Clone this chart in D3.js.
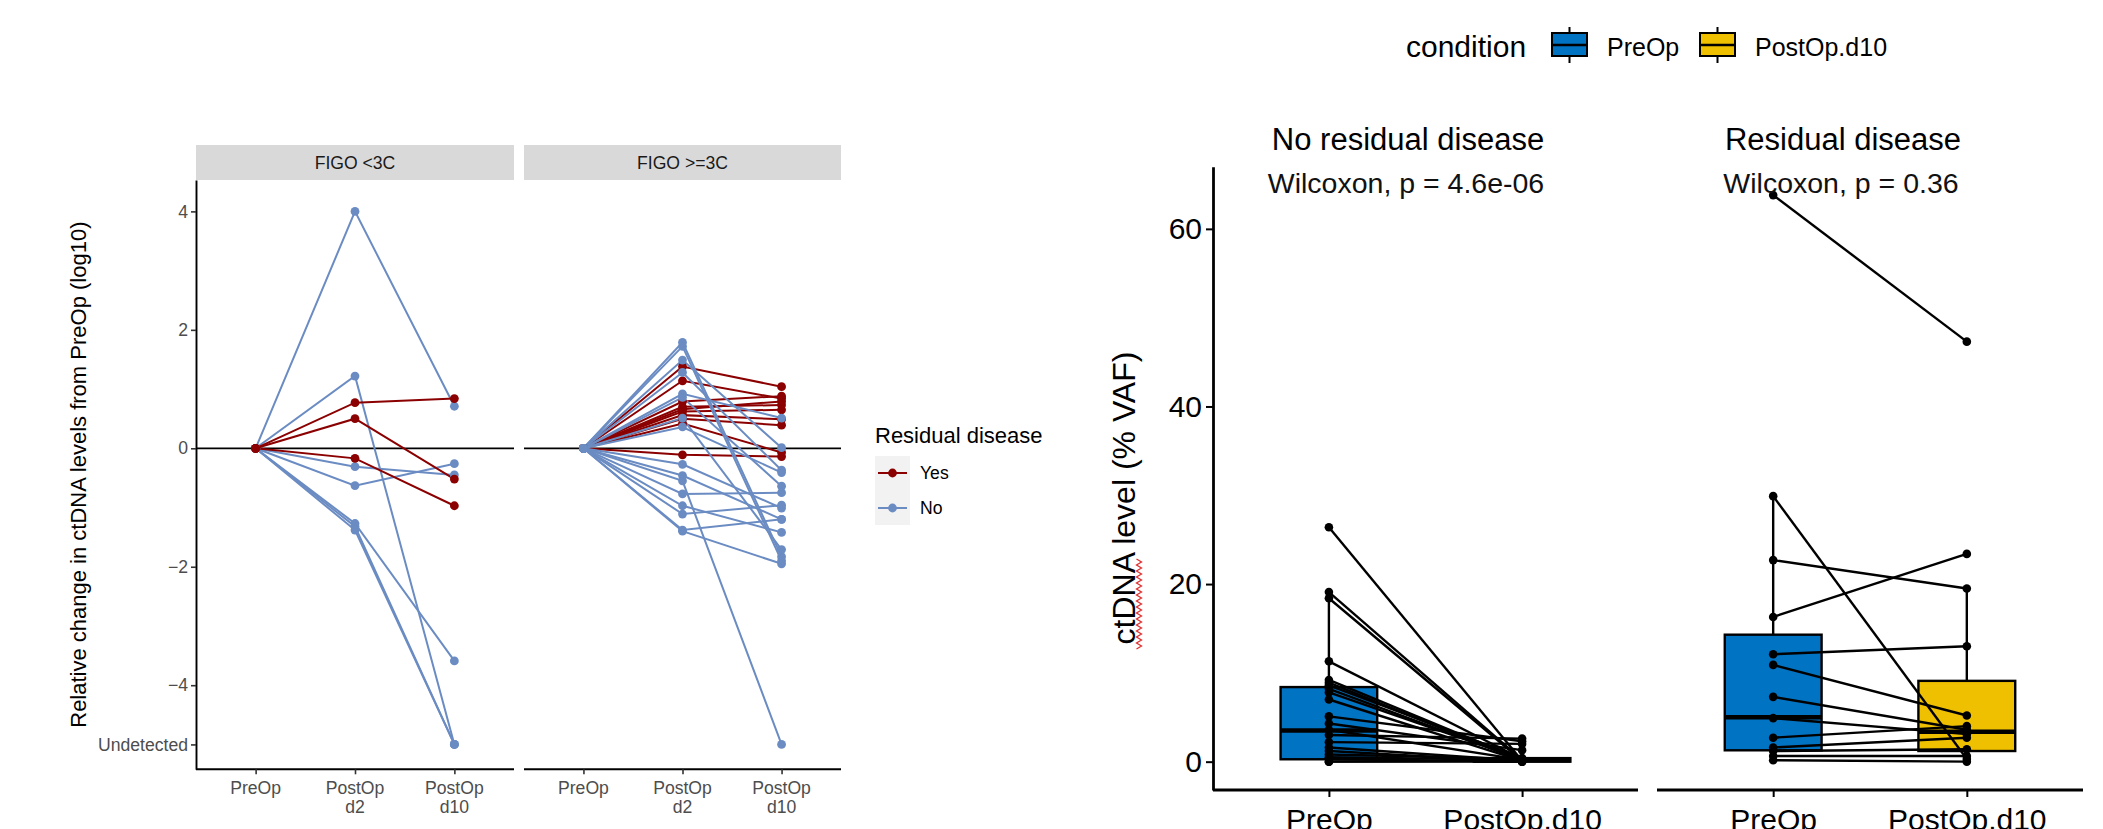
<!DOCTYPE html>
<html>
<head>
<meta charset="utf-8">
<script src="https://cdn.jsdelivr.net/npm/d3@7"></script>
<style>
  body { margin: 0; background: #fff; }
  svg { display: block; font-family: "Liberation Sans", Arial, sans-serif; }
</style>
</head>
<body>
<div id="chart"></div>
<script>
// ---- left plot: relative change (log10) ----
var timepoints = ["PreOp", "PostOp d2", "PostOp d10"];
var facets = ["FIGO <3C", "FIGO >=3C"];
var relTicks = [4, 2, 0, -2, -4, -5];
var relTickLabels = ["4", "2", "0", "\u22122", "\u22124", "Undetected"];
var residualLevels = ["Yes", "No"];

// FIGO <3C, one entry per patient (PreOp is always 0)
var lowD2  = [4.00, 1.22, -0.31, -0.63, -1.27, -1.32, -1.38, 0.77, 0.50, -0.17];
var lowD10 = [0.71, -5, -0.45, -0.26, -3.59, -5, -5, 0.84, -0.52, -0.97];
var lowRes = ["No", "No", "No", "No", "No", "No", "No", "Yes", "Yes", "Yes"];

// FIGO >=3C
var highD2  = [1.38, 1.14, 0.79, 0.70, 0.66, 0.62, 0.56, 0.50, 0.42, -0.11,
               1.79, 1.72, 1.49, 1.28, 0.92, 0.86, 0.51, 0.36, -0.27, -0.46, -0.55, -0.77, -0.97, -1.11, -1.38, -1.40];
var highD10 = [1.04, 0.84, 0.88, 0.73, 0.79, 0.65, 0.49, 0.39, -0.07, -0.14,
               -1.83, -1.90, 0.01, -0.37, 0.51, -0.64, -1.71, -0.41, -1.01, -1.20, -5, -0.75, -1.42, -0.96, -1.20, -1.95];
var highRes = ["Yes", "Yes", "Yes", "Yes", "Yes", "Yes", "Yes", "Yes", "Yes", "Yes",
               "No", "No", "No", "No", "No", "No", "No", "No", "No", "No", "No", "No", "No", "No", "No", "No"];

// ---- right plot: ctDNA level (% VAF) ----
var conditions = ["PreOp", "PostOp.d10"];
var groups = ["No residual disease", "Residual disease"];
var pvalues = ["Wilcoxon, p = 4.6e-06", "Wilcoxon, p = 0.36"];
var vafTicks = [0, 20, 40, 60];

var noResPre  = [26.4, 19.1, 18.4, 11.3, 9.2, 8.9, 8.6, 8.2, 7.8, 7.0, 5.1, 4.3, 3.6, 3.0, 2.2, 1.6, 0.8, 0.3, 0.0, 0.0, 0.5, 1.2];
var noResPost = [0.1, 0.2, 0.1, 0.3, 0.2, 0.1, 0.4, 0.2, 0.3, 0.1, 2.3, 1.3, 0.2, 2.6, 2.0, 0.1, 0.3, 0.0, 0.0, 0.1, 0.2, 0.0];
var resPre  = [63.8, 29.9, 22.7, 16.3, 12.1, 10.9, 7.3, 4.9, 2.7, 1.6, 1.2, 0.64, 0.16];
var resPost = [47.3, 0.3, 19.5, 23.4, 13.0, 5.2, 3.6, 3.1, 4.0, 2.7, 1.4, 0.64, 0.0];

// box stats: [lower whisker, Q1, median, Q3, upper whisker]
var noResPreBox  = [0.0, 0.27, 3.5, 8.4, 19.1];
var noResPostBox = [0.0, 0.0, 0.15, 0.4, 0.9];
var resPreBox    = [0.16, 1.28, 5.0, 14.3, 29.9];
var resPostBox   = [0.0, 1.2, 3.36, 9.1, 19.5];

var colorRes = d3.scaleOrdinal().domain(residualLevels).range(["#8b0000", "#6b8cc3"]);
var colorCond = d3.scaleOrdinal().domain(conditions).range(["#0073c2", "#efc000"]);

var W = 2103, H = 829;
var svg = d3.select("#chart").append("svg").attr("width", W).attr("height", H);

// ================= left plot =================
var panelTop = 180, panelBottom = 769.3;
var facetX = [[196, 514], [524, 841]];
var yRel = d3.scaleLinear().domain([-5.42, 4.53]).range([panelBottom, panelTop]);

var facetData = [
	{d2: lowD2, d10: lowD10, res: lowRes},
	{d2: highD2, d10: highD10, res: highRes}
];

facets.forEach(function(name, fi) {
	var x0 = facetX[fi][0], x1 = facetX[fi][1];
	var x = d3.scalePoint().domain(timepoints).range([x0, x1]).padding(0.6);
	var g = svg.append("g");

	// strip
	g.append("rect").attr("x", x0).attr("y", 145).attr("width", x1 - x0).attr("height", panelTop - 145)
		.attr("fill", "#d9d9d9");
	g.append("text").attr("x", (x0 + x1) / 2).attr("y", 169)
		.attr("text-anchor", "middle").attr("font-size", 17.6).attr("fill", "#1a1a1a").text(name);

	// zero line
	g.append("line").attr("x1", x0).attr("x2", x1).attr("y1", yRel(0)).attr("y2", yRel(0))
		.attr("stroke", "#000").attr("stroke-width", 1.8);

	var fd = facetData[fi];
	var patients = fd.d2.map(function(v, i) {
		return {res: fd.res[i], vals: [0, v, fd.d10[i]]};
	});

	var line = d3.line().x(function(d, i) { return x(timepoints[i]); }).y(function(d) { return yRel(d); });
	patients.forEach(function(p) {
		g.append("path").attr("d", line(p.vals)).attr("fill", "none")
			.attr("stroke", colorRes(p.res)).attr("stroke-width", 2);
	});
	patients.forEach(function(p) {
		g.selectAll(null).data(p.vals).enter().append("circle")
			.attr("cx", function(d, i) { return x(timepoints[i]); })
			.attr("cy", function(d) { return yRel(d); })
			.attr("r", 4.4).attr("fill", colorRes(p.res));
	});

	// x axis
	var xa = g.append("g").attr("transform", "translate(0," + panelBottom + ")")
		.call(d3.axisBottom(x).tickSize(5).tickSizeOuter(0).tickFormat(""));
	xa.select(".domain").attr("stroke-width", 1.9).attr("d", "M" + x0 + ",0H" + x1);
	xa.selectAll(".tick line").attr("stroke", "#333").attr("stroke-width", 1.6);
	timepoints.forEach(function(t) {
		var parts = t.split(" ");
		var tx = g.append("text").attr("x", x(t)).attr("y", panelBottom + 25)
			.attr("text-anchor", "middle").attr("font-size", 17.6).attr("fill", "#4d4d4d");
		parts.forEach(function(s, k) {
			tx.append("tspan").attr("x", x(t)).attr("dy", k === 0 ? 0 : 19).text(s);
		});
	});
});

// y axis (left facet only)
var ya = svg.append("g").attr("transform", "translate(196,0)")
	.call(d3.axisLeft(yRel).tickValues(relTicks).tickSize(5).tickSizeOuter(0)
		.tickFormat(function(d, i) { return relTickLabels[i]; }));
ya.select(".domain").attr("stroke-width", 1.9);
ya.selectAll(".tick line").attr("stroke", "#333").attr("stroke-width", 1.6);
ya.selectAll(".tick text").attr("font-size", 17.6).attr("fill", "#4d4d4d")
	.attr("font-family", "Liberation Sans, Arial, sans-serif").attr("x", -8);

svg.append("text").attr("transform", "translate(78," + ((panelTop + panelBottom) / 2) + ") rotate(-90)")
	.attr("text-anchor", "middle").attr("dy", "0.35em").attr("font-size", 22).attr("fill", "#000")
	.text("Relative change in ctDNA levels from PreOp (log10)");

// legend
var lg = svg.append("g");
lg.append("text").attr("x", 875).attr("y", 443).attr("font-size", 22).text("Residual disease");
lg.append("rect").attr("x", 875).attr("y", 456).attr("width", 35).attr("height", 69).attr("fill", "#f2f2f2");
residualLevels.forEach(function(r, i) {
	var cy = 473 + i * 35;
	lg.append("line").attr("x1", 878).attr("x2", 907).attr("y1", cy).attr("y2", cy)
		.attr("stroke", colorRes(r)).attr("stroke-width", 2);
	lg.append("circle").attr("cx", 892.5).attr("cy", cy).attr("r", 4.4).attr("fill", colorRes(r));
	lg.append("text").attr("x", 920).attr("y", cy + 6.3).attr("font-size", 17.6).text(r);
});

// ================= right plot =================
var rTop = 166.7, rBottom = 790;
var yVaf = d3.scaleLinear().domain([-3.19, 67.0]).range([rBottom, rTop]);
var groupX = [[1213, 1638], [1657, 2083]];
var groupPre = [noResPre, resPre];
var groupPost = [noResPost, resPost];
var groupBox = [[noResPreBox, noResPostBox], [resPreBox, resPostBox]];
var titleX = [1408, 1843];

groups.forEach(function(gname, gi) {
	var x0 = groupX[gi][0], x1 = groupX[gi][1];
	var x = d3.scalePoint().domain(conditions).range([x0, x1]).padding(0.6);
	var bw = x.step() * 0.5;
	var g = svg.append("g");

	// boxes
	conditions.forEach(function(c, ci) {
		var s = groupBox[gi][ci];
		var cx = x(c);
		g.append("line").attr("x1", cx).attr("x2", cx).attr("y1", yVaf(s[0])).attr("y2", yVaf(s[4]))
			.attr("stroke", "#000").attr("stroke-width", 2.4);
		g.append("rect").attr("x", cx - bw / 2).attr("y", yVaf(s[3]))
			.attr("width", bw).attr("height", Math.max(yVaf(s[1]) - yVaf(s[3]), 1))
			.attr("fill", colorCond(c)).attr("stroke", "#000").attr("stroke-width", 2.4);
		g.append("line").attr("x1", cx - bw / 2).attr("x2", cx + bw / 2)
			.attr("y1", yVaf(s[2])).attr("y2", yVaf(s[2]))
			.attr("stroke", "#000").attr("stroke-width", 4.5);
	});

	// paired lines and points
	var pre = groupPre[gi], post = groupPost[gi];
	pre.forEach(function(v, i) {
		g.append("line").attr("x1", x(conditions[0])).attr("x2", x(conditions[1]))
			.attr("y1", yVaf(v)).attr("y2", yVaf(post[i]))
			.attr("stroke", "#000").attr("stroke-width", 2.4);
	});
	[pre, post].forEach(function(arr, ci) {
		g.selectAll(null).data(arr).enter().append("circle")
			.attr("cx", x(conditions[ci])).attr("cy", function(d) { return yVaf(d); })
			.attr("r", 4.3).attr("fill", "#000");
	});

	// x axis
	var xa = g.append("g").attr("transform", "translate(0," + rBottom + ")")
		.call(d3.axisBottom(x).tickSize(7).tickSizeOuter(0));
	xa.select(".domain").attr("stroke-width", 2.8).attr("d", "M" + x0 + ",0H" + x1);
	xa.selectAll(".tick line").attr("stroke-width", 2);
	xa.selectAll(".tick text").attr("font-size", 30).attr("fill", "#000")
		.attr("font-family", "Liberation Sans, Arial, sans-serif").attr("dy", 0).attr("y", 40);

	// titles
	g.append("text").attr("x", titleX[gi]).attr("y", 150).attr("text-anchor", "middle")
		.attr("font-size", 31).attr("fill", "#000").text(gname);
	g.append("text").attr("x", titleX[gi] - 2).attr("y", 193).attr("text-anchor", "middle")
		.attr("font-size", 28.5).attr("fill", "#111").text(pvalues[gi]);
});

var yr = svg.append("g").attr("transform", "translate(1213,0)")
	.call(d3.axisLeft(yVaf).tickValues(vafTicks).tickSize(7).tickSizeOuter(0));
yr.select(".domain").attr("stroke-width", 2.8);
yr.selectAll(".tick line").attr("stroke-width", 2);
yr.selectAll(".tick text").attr("font-size", 30).attr("fill", "#000")
	.attr("font-family", "Liberation Sans, Arial, sans-serif").attr("x", -11);

svg.append("text").attr("transform", "translate(1124,498) rotate(-90)")
	.attr("text-anchor", "middle").attr("dy", "0.35em").attr("font-size", 32).attr("fill", "#000")
	.text("ctDNA level (% VAF)");
// spell-check squiggle under "ctDNA"
var sq = d3.range(0, 31).map(function(k) { return [1139 + (k % 2 ? 2.5 : -2.5), 649 - k * 3]; });
svg.append("path").attr("d", d3.line()(sq)).attr("fill", "none").attr("stroke", "#e03030").attr("stroke-width", 1.3);

// condition legend
var cl = svg.append("g");
cl.append("text").attr("x", 1406).attr("y", 57).attr("font-size", 30).text("condition");
var keyX = [1552, 1700], labX = [1607, 1755];
conditions.forEach(function(c, i) {
	var kx = keyX[i] + 17.5;
	cl.append("line").attr("x1", kx).attr("x2", kx).attr("y1", 27).attr("y2", 63).attr("stroke", "#000").attr("stroke-width", 2);
	cl.append("rect").attr("x", keyX[i]).attr("y", 33).attr("width", 35).attr("height", 23)
		.attr("fill", colorCond(c)).attr("stroke", "#000").attr("stroke-width", 2);
	cl.append("line").attr("x1", keyX[i]).attr("x2", keyX[i] + 35).attr("y1", 45).attr("y2", 45).attr("stroke", "#000").attr("stroke-width", 2.5);
	cl.append("text").attr("x", labX[i]).attr("y", 56).attr("font-size", 25).text(c);
});
</script>
</body>
</html>
